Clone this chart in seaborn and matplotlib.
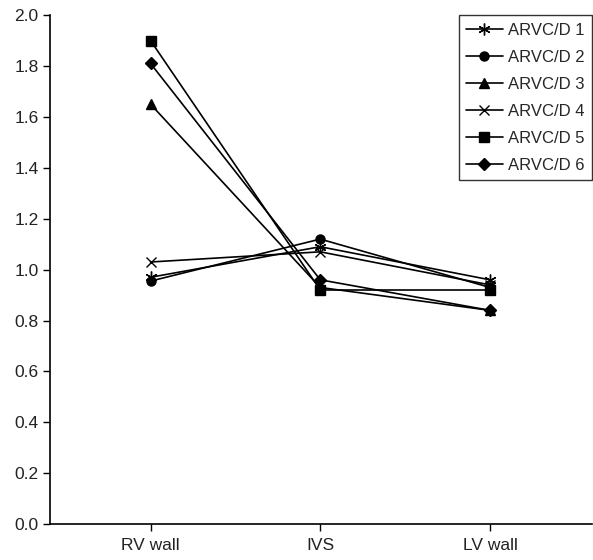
import pandas as pd
import matplotlib
matplotlib.use("Agg")
import matplotlib.pyplot as plt
import seaborn as sns

# Values
regions = ["RV wall", "IVS", "LV wall"]
arvc1 = [0.97, 1.09, 0.96]
arvc2 = [0.955, 1.12, 0.93]
arvc3 = [1.65, 0.93, 0.84]
arvc4 = [1.03, 1.07, 0.94]
arvc5 = [1.90, 0.92, 0.92]
arvc6 = [1.81, 0.96, 0.84]

series = {
    "ARVC/D 1": arvc1,
    "ARVC/D 2": arvc2,
    "ARVC/D 3": arvc3,
    "ARVC/D 4": arvc4,
    "ARVC/D 5": arvc5,
    "ARVC/D 6": arvc6,
}

rows = []
for name, vals in series.items():
    for i, v in enumerate(vals):
        rows.append({"pos": i, "region": regions[i], "value": v, "patient": name})
df = pd.DataFrame(rows)

sns.set_theme(style="ticks")
plt.rcParams["font.family"] = ["Liberation Sans", "DejaVu Sans"]

# marker, size per series
markers = {
    "ARVC/D 1": ((6, 2, 0), 8.5),
    "ARVC/D 2": ("o", 6.5),
    "ARVC/D 3": ("^", 7.5),
    "ARVC/D 4": ("x", 7.5),
    "ARVC/D 5": ("s", 6.5),
    "ARVC/D 6": ("D", 6),
}

fig, ax = plt.subplots(figsize=(5.93, 5.60), dpi=100)
for name in series:
    m, ms = markers[name]
    sns.lineplot(data=df[df["patient"] == name], x="pos", y="value",
                 marker=m, markersize=ms, color="black", linewidth=1.2,
                 markeredgecolor="black", markerfacecolor="black",
                 markeredgewidth=1.0, label=name, ax=ax)

ax.set_xlim(-0.59, 2.6)
ax.set_ylim(0, 2.0)
yt = [0.0, 0.2, 0.4, 0.6, 0.8, 1.0, 1.2, 1.4, 1.6, 1.8, 2.0]
ax.set_yticks(yt)
ax.set_yticklabels([f"{t:.1f}" for t in yt])
ax.set_xticks(range(len(regions)))
ax.set_xticklabels(regions)
ax.set_xlabel("")
ax.set_ylabel("")
ax.tick_params(axis="both", labelsize=12.5, colors="black", direction="out",
               length=5, width=1.0, labelcolor="#222222")
ax.tick_params(axis="x", pad=5)
for s in ["left", "bottom"]:
    ax.spines[s].set_color("black")
    ax.spines[s].set_linewidth(1.2)
sns.despine(ax=ax)

leg = ax.legend(loc="upper right", bbox_to_anchor=(1.0, 1.0),
                frameon=True, fancybox=False, fontsize=12, handlelength=2.2,
                labelspacing=0.72, borderpad=0.45, handletextpad=0.3,
                borderaxespad=0.0)
leg.get_frame().set_edgecolor("black")
leg.get_frame().set_linewidth(1.0)

fig.subplots_adjust(left=0.085, right=0.998, top=0.973, bottom=0.064)
fig.savefig("out.png", dpi=100)
